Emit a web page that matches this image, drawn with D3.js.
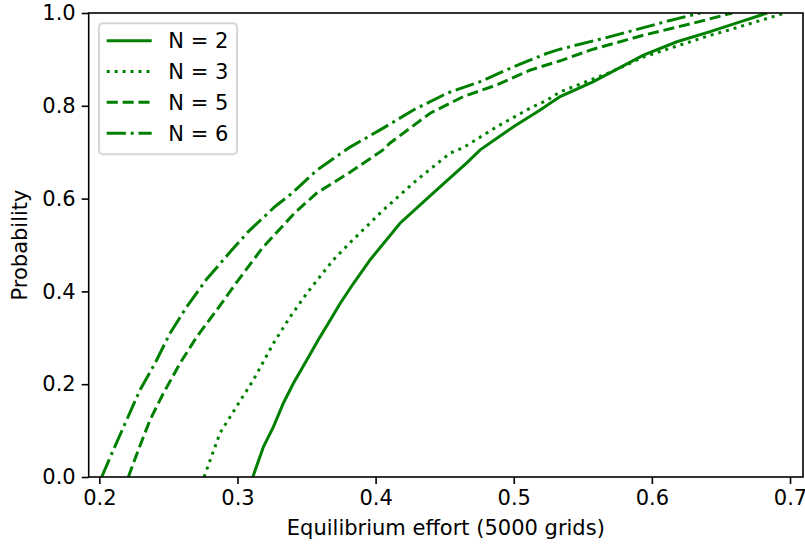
<!DOCTYPE html>
<html>
<head>
<meta charset="utf-8">
<script src="https://cdn.jsdelivr.net/npm/d3@7"></script>
<style>
  body { margin: 0; background: #fff; }
  text { font-family: "DejaVu Sans", sans-serif; fill: #000; }
</style>
</head>
<body>
<div class="content"></div>
<script>
var svgWidth = 805;   // The width of the SVG element.
var svgHeight = 546;  // The height of the SVG element.

var effortN2 = [0.3111, 0.3188, 0.3260, 0.3332, 0.3405, 0.3502, 0.3598, 0.3671, 0.3743, 0.3839, 0.3960, 0.4177, 0.4416, 0.4660, 0.4757, 0.4998, 0.5191, 0.5336, 0.5577, 0.5939, 0.6181, 0.6422, 0.6639, 0.6835];
var probN2   = [0.000,  0.065,  0.108,  0.159,  0.202,  0.252,  0.302,  0.338,  0.374,  0.417,  0.468,  0.547,  0.612,  0.677,  0.705,  0.755,  0.791,  0.820,  0.852,  0.909,  0.938,  0.960,  0.981,  1.000];

var effortN3 = [0.2758, 0.2874, 0.3019, 0.3115, 0.3260, 0.3381, 0.3502, 0.3694, 0.3815, 0.4054, 0.4298, 0.4539, 0.4636, 0.4878, 0.5119, 0.5240, 0.5336, 0.5698, 0.5939, 0.6060, 0.6422, 0.6542, 0.6965];
var probN3   = [0.000,  0.095,  0.164,  0.209,  0.288,  0.345,  0.396,  0.468,  0.505,  0.575,  0.640,  0.698,  0.710,  0.755,  0.795,  0.812,  0.830,  0.872,  0.905,  0.917,  0.952,  0.962,  1.000];

var effortN5 = [0.2210, 0.2282, 0.2367, 0.2463, 0.2584, 0.2705, 0.2850, 0.2995, 0.3176, 0.3321, 0.3417, 0.3574, 0.3815, 0.4054, 0.4105, 0.4395, 0.4636, 0.4878, 0.5119, 0.5336, 0.5575, 0.5817, 0.5937, 0.6299, 0.6582];
var probN5   = [0.000,  0.058,  0.123,  0.180,  0.245,  0.302,  0.360,  0.420,  0.492,  0.539,  0.570,  0.612,  0.657,  0.705,  0.720,  0.784,  0.820,  0.845,  0.877,  0.897,  0.922,  0.942,  0.952,  0.978,  1.000];

var effortN6 = [0.2017, 0.2101, 0.2198, 0.2295, 0.2403, 0.2512, 0.2633, 0.2773, 0.2959, 0.3079, 0.3272, 0.3393, 0.3574, 0.3815, 0.4033, 0.4274, 0.4516, 0.4757, 0.4998, 0.5240, 0.5336, 0.5698, 0.6132, 0.6350];
var probN6   = [0.000,  0.058,  0.123,  0.188,  0.245,  0.310,  0.367,  0.425,  0.489,  0.529,  0.583,  0.611,  0.661,  0.711,  0.748,  0.791,  0.827,  0.852,  0.884,  0.913,  0.922,  0.949,  0.984,  1.000];

var seriesLabels = ["N = 2", "N = 3", "N = 5", "N = 6"];
var seriesEffort = [effortN2, effortN3, effortN5, effortN6];
var seriesProb = [probN2, probN3, probN5, probN6];
var seriesDash = [null, "3,4.95", "11.1,4.8", "19.2,4.8,3,4.8"];

var xTicks = [0.2, 0.3, 0.4, 0.5, 0.6, 0.7];
var yTicks = [0.0, 0.2, 0.4, 0.6, 0.8, 1.0];

var lineColor = "#008000";
var fontSize = 21;

// Plot area.
var margin = {"top" : 13, "right" : 2, "bottom" : 69, "left" : 88.7};
var plotW = svgWidth - margin.left - margin.right;
var plotH = svgHeight - margin.top - margin.bottom;

var svg = d3.select(".content")
	.append("svg")
	.attr("width", svgWidth)
	.attr("height", svgHeight);

var x = d3.scaleLinear().domain([0.1923, 0.7094]).range([margin.left, margin.left + plotW]);
var y = d3.scaleLinear().domain([0, 1]).range([margin.top + plotH, margin.top]);

// Clip the curves to the axes box.
svg.append("clipPath")
	.attr("id", "plotClip")
	.append("rect")
	.attr("x", margin.left)
	.attr("y", margin.top)
	.attr("width", plotW)
	.attr("height", plotH);

var line = d3.line()
	.x(function(d) { return x(d[0]); })
	.y(function(d) { return y(d[1]); });

var curves = svg.append("g").attr("clip-path", "url(#plotClip)");
seriesLabels.forEach(function(label, i) {
	var pts = d3.zip(seriesEffort[i], seriesProb[i]);
	curves.append("path")
		.datum(pts)
		.attr("d", line)
		.attr("fill", "none")
		.attr("stroke", lineColor)
		.attr("stroke-width", 3)
		.attr("stroke-dasharray", seriesDash[i]);
});

// Axes.
var xAxis = svg.append("g")
	.attr("transform", "translate(0," + (margin.top + plotH) + ")")
	.call(d3.axisBottom(x).tickValues(xTicks).tickFormat(d3.format(".1f")).tickSize(7).tickPadding(6));
var yAxis = svg.append("g")
	.attr("transform", "translate(" + margin.left + ",0)")
	.call(d3.axisLeft(y).tickValues(yTicks).tickFormat(d3.format(".1f")).tickSize(7).tickPadding(6));

[xAxis, yAxis].forEach(function(ax) {
	ax.select(".domain").remove();
	ax.selectAll("line").attr("stroke", "#000").attr("stroke-width", 1.6);
	ax.selectAll("text").style("font-size", fontSize + "px").attr("fill", "#000");
});

// Axes box (spines).
svg.append("rect")
	.attr("x", margin.left)
	.attr("y", margin.top)
	.attr("width", plotW)
	.attr("height", plotH)
	.attr("fill", "none")
	.attr("stroke", "#000")
	.attr("stroke-width", 1.6);

// Axis labels.
svg.append("text")
	.attr("x", margin.left + plotW / 2)
	.attr("y", 535)
	.attr("text-anchor", "middle")
	.style("font-size", fontSize + "px")
	.text("Equilibrium effort (5000 grids)");

svg.append("text")
	.attr("transform", "translate(27," + (margin.top + plotH / 2) + ") rotate(-90)")
	.attr("text-anchor", "middle")
	.style("font-size", fontSize + "px")
	.text("Probability");

// Legend.
var legend = svg.append("g");
legend.append("rect")
	.attr("x", 99)
	.attr("y", 23.3)
	.attr("width", 138)
	.attr("height", 131)
	.attr("rx", 4)
	.attr("fill", "#fff")
	.attr("fill-opacity", 0.8)
	.attr("stroke", "#d6d6d6")
	.attr("stroke-width", 2);

var rowY = d3.scaleLinear().domain([0, 3]).range([40.7, 133.2]);
seriesLabels.forEach(function(label, i) {
	legend.append("line")
		.attr("x1", 106.7)
		.attr("x2", 151.7)
		.attr("y1", rowY(i))
		.attr("y2", rowY(i))
		.attr("stroke", lineColor)
		.attr("stroke-width", 3)
		.attr("stroke-dasharray", seriesDash[i]);
	legend.append("text")
		.attr("x", 168.3)
		.attr("y", rowY(i) + 7.5)
		.style("font-size", fontSize + "px")
		.text(label);
});
</script>
</body>
</html>
